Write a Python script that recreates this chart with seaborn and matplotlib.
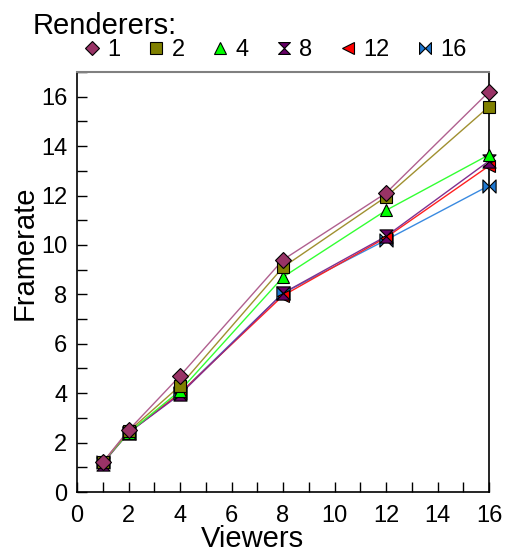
import numpy as np
import pandas as pd
import seaborn as sns
import matplotlib.pyplot as plt
from matplotlib.path import Path
from matplotlib.ticker import MultipleLocator

# data
viewers = [1, 2, 4, 8, 12, 16]
renderers = ['1', '2', '4', '8', '12', '16']
fps_1 = [1.2, 2.5, 4.7, 9.4, 12.1, 16.2]
fps_2 = [1.2, 2.45, 4.3, 9.1, 11.95, 15.6]
fps_4 = [1.2, 2.4, 4.1, 8.7, 11.4, 13.65]
fps_8 = [1.15, 2.4, 3.95, 8.05, 10.35, 13.4]
fps_12 = [1.2, 2.4, 4.0, 7.95, 10.3, 13.2]
fps_16 = [1.2, 2.4, 4.0, 8.05, 10.2, 12.4]
series = [fps_1, fps_2, fps_4, fps_8, fps_12, fps_16]

colors = ['#993366', '#808000', '#00ff00', '#660066', '#ff0000', '#1e78d2']
linecols = ['#b0608f', '#a09030', '#33ff33', '#803090', '#ff2020', '#3a8ae0']
hourglass = Path([(-1, 1), (1, 1), (-1, -1), (1, -1), (-1, 1)],
                 [Path.MOVETO, Path.LINETO, Path.LINETO, Path.LINETO, Path.CLOSEPOLY])
bowtie = Path([(-1, 1), (1, -1), (1, 1), (-1, -1), (-1, 1)],
              [Path.MOVETO, Path.LINETO, Path.LINETO, Path.LINETO, Path.CLOSEPOLY])
markers = ['D', 's', '^', hourglass, '<', bowtie]
msizes = [8, 9, 9, 9.5, 9, 9.5]

sns.set_style('ticks')
plt.rcParams['font.family'] = ['Liberation Sans', 'DejaVu Sans']
plt.rcParams['text.color'] = 'black'
plt.rcParams['axes.labelcolor'] = 'black'
plt.rcParams['xtick.color'] = 'black'
plt.rcParams['ytick.color'] = 'black'

fig = plt.figure(figsize=(5.08, 5.54), dpi=100)
ax = fig.add_axes([0.1516, 0.1119, 0.811, 0.7581])

rows = []
for r, s in zip(renderers, series):
    for v, f in zip(viewers, s):
        rows.append((r, v, f))
df = pd.DataFrame(rows, columns=['renderers', 'viewers', 'fps'])

handles = []
for i, r in enumerate(renderers):
    d = df[df['renderers'] == r]
    sns.lineplot(data=d, x='viewers', y='fps', ax=ax, color=linecols[i], lw=1,
                 zorder=10 - i, legend=False)
    ax.plot(d['viewers'], d['fps'], ls='none', marker=markers[i], ms=msizes[i],
            mfc=colors[i], mec='black', mew=0.8, zorder=20 - i, clip_on=False)
    h, = ax.plot([], [], ls='none', marker=markers[i], ms=msizes[i] * 0.9,
                 mfc=colors[i], mec='black', mew=0.8, label=r)
    handles.append(h)

ax.set_xlim(0, 16)
ax.set_ylim(0, 17)
ax.set_xticks(np.arange(0, 17, 2))
ax.set_yticks(np.arange(0, 17, 2))
ax.xaxis.set_minor_locator(MultipleLocator(1))
ax.yaxis.set_minor_locator(MultipleLocator(1))
ax.tick_params(which='both', direction='in', length=7, width=1, labelsize=17,
               top=False, right=False)
ax.tick_params(axis='x', pad=9)
ax.tick_params(axis='y', pad=7)
ax.set_xlabel('Viewers', fontsize=21)
ax.set_ylabel('Framerate', fontsize=21)
ax.xaxis.set_label_coords(0.427, -0.112)
ax.xaxis.label.set_va('center')
ax.yaxis.set_label_coords(-0.126, 0.569)
ax.yaxis.label.set_va('center')
for sp in ['left', 'bottom', 'right']:
    ax.spines[sp].set_color('black')
    ax.spines[sp].set_linewidth(1.2)
ax.spines['top'].set_color('#808080')
ax.spines['top'].set_linewidth(1.5)

fig.text(0.065, 0.978, 'Renderers:', fontsize=21, va='top', ha='left')
fig.legend(handles=handles, labels=renderers, loc='upper left', ncol=6,
           bbox_to_anchor=(0.163, 0.929), frameon=False, fontsize=17,
           handlelength=0.8, handletextpad=0.25, columnspacing=1.1,
           borderpad=0, borderaxespad=0)

plt.savefig('out.png', dpi=100)
